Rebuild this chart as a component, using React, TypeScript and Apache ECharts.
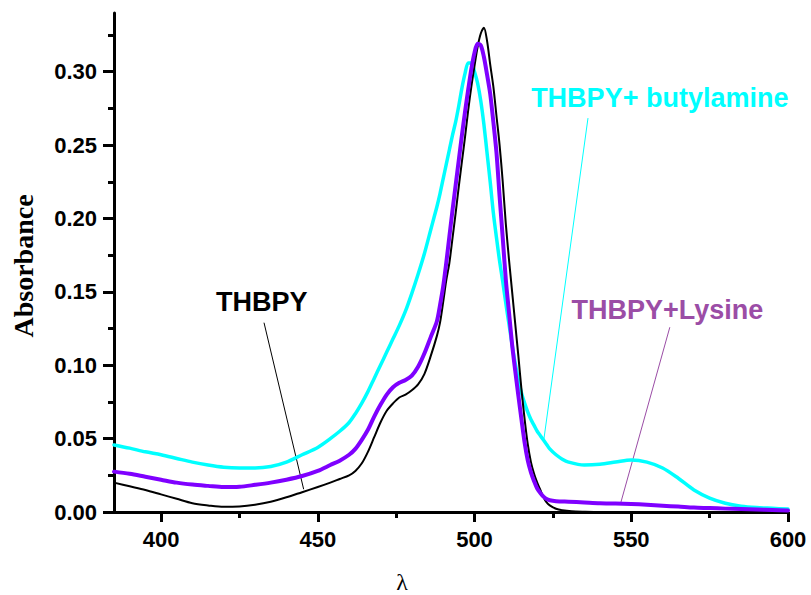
import React, { useEffect, useRef } from 'react';
import * as echarts from 'echarts';

// Absorbance spectra [wavelength (nm), absorbance]
const thbpy: [number, number][] = [
  [385, 0.020], [390, 0.0175], [395, 0.015], [400, 0.012], [405, 0.009], [410, 0.006],
  [415, 0.0045], [420, 0.0035], [425, 0.0038], [430, 0.005], [435, 0.007], [440, 0.010],
  [445, 0.0135], [450, 0.017], [454, 0.020], [457, 0.0225], [460, 0.025], [462, 0.028],
  [464, 0.033], [466, 0.041], [468, 0.051], [470, 0.061], [472, 0.069], [474, 0.074],
  [476, 0.078], [478, 0.080], [480, 0.083], [482, 0.087], [484, 0.094], [486, 0.106],
  [488, 0.120], [489, 0.129], [490, 0.143], [491, 0.158], [492, 0.170], [493, 0.187],
  [494, 0.204], [495, 0.222], [496, 0.239], [497, 0.256], [498, 0.274], [499, 0.290],
  [500, 0.304], [501, 0.317], [502, 0.326], [503, 0.330], [504, 0.321], [505, 0.305],
  [506, 0.290], [507, 0.270], [508, 0.250], [509, 0.225], [510, 0.196], [511, 0.172],
  [512, 0.150], [513, 0.128], [514, 0.106], [515, 0.083], [516, 0.063], [517, 0.046],
  [518, 0.034], [519, 0.026], [520, 0.020], [521, 0.015], [522, 0.010], [523, 0.0065],
  [524, 0.0045], [526, 0.0022], [528, 0.0012], [531, 0.0005], [535, 0.0002], [540, 0],
  [550, 0], [560, 0], [570, 0], [580, 0], [590, 0], [600, 0]
];

const thbpyLysine: [number, number][] = [
  [385, 0.0275], [390, 0.026], [395, 0.024], [400, 0.022], [405, 0.020], [410, 0.0187],
  [415, 0.0178], [420, 0.017], [425, 0.0172], [430, 0.0185], [435, 0.020], [440, 0.022],
  [445, 0.0245], [450, 0.028], [454, 0.032], [457, 0.035], [460, 0.039], [462, 0.043],
  [464, 0.049], [466, 0.056], [468, 0.065], [470, 0.073], [472, 0.080], [474, 0.085],
  [476, 0.088], [478, 0.090], [480, 0.093], [482, 0.099], [484, 0.108], [486, 0.119],
  [488, 0.130], [489, 0.141], [490, 0.1536], [491, 0.170], [492, 0.188], [493, 0.206],
  [494, 0.223], [495, 0.240], [496, 0.257], [497, 0.273], [498, 0.288], [499, 0.302],
  [500, 0.313], [501, 0.319], [502, 0.318], [503, 0.310], [504, 0.298], [505, 0.285],
  [506, 0.266], [507, 0.245], [508, 0.215], [509, 0.187], [510, 0.158], [511, 0.136],
  [512, 0.114], [513, 0.096], [514, 0.079], [515, 0.0627], [516, 0.047], [517, 0.035],
  [518, 0.027], [519, 0.021], [520, 0.016], [521, 0.013], [522, 0.0105], [523, 0.0088],
  [524, 0.0080], [526, 0.0074], [530, 0.007], [535, 0.0065], [540, 0.006], [545, 0.0058],
  [550, 0.0055], [555, 0.005], [560, 0.0043], [565, 0.0037], [570, 0.003], [575, 0.0027],
  [580, 0.0023], [585, 0.002], [590, 0.0017], [595, 0.0014], [600, 0.001]
];

const thbpyButylamine: [number, number][] = [
  [385, 0.0457], [390, 0.0435], [395, 0.041], [400, 0.039], [405, 0.0365], [410, 0.034],
  [415, 0.032], [420, 0.0305], [425, 0.030], [430, 0.030], [435, 0.031], [440, 0.034],
  [445, 0.039], [450, 0.044], [454, 0.050], [457, 0.055], [460, 0.061], [462, 0.067],
  [464, 0.074], [466, 0.082], [468, 0.091], [470, 0.100], [472, 0.109], [474, 0.118],
  [476, 0.127], [478, 0.137], [480, 0.149], [482, 0.162], [484, 0.176], [486, 0.192],
  [487, 0.200], [488, 0.208], [489, 0.217], [490, 0.227], [491, 0.237], [492, 0.247],
  [493, 0.257], [494, 0.266], [495, 0.277], [496, 0.289], [497, 0.299], [498, 0.306],
  [499, 0.306], [500, 0.300], [501, 0.292], [502, 0.280], [503, 0.264], [504, 0.2446],
  [505, 0.225], [506, 0.204], [507, 0.187], [508, 0.171], [509, 0.157], [510, 0.142],
  [511, 0.128], [512, 0.114], [513, 0.101], [514, 0.090], [515, 0.081], [516, 0.074],
  [517, 0.068], [518, 0.063], [519, 0.059], [520, 0.055], [521, 0.052], [522, 0.049],
  [523, 0.046], [524, 0.043], [526, 0.039], [528, 0.036], [530, 0.034], [535, 0.032],
  [540, 0.0325], [545, 0.034], [550, 0.0355], [555, 0.034], [560, 0.030], [565, 0.023],
  [570, 0.015], [575, 0.0095], [580, 0.006], [585, 0.004], [590, 0.003], [595, 0.0025],
  [600, 0.002]
];

const xMajorTicks = [400, 450, 500, 550, 600];
const xMinorTicks = [425, 475, 525, 575];
const yMajorTicks = [0, 0.05, 0.1, 0.15, 0.2, 0.25, 0.3];
const yMinorTicks = [0.025, 0.075, 0.125, 0.175, 0.225, 0.275, 0.325];

// Annotation labels and leader lines (data coordinates)
const annotationTexts = ['THBPY', 'THBPY+ butylamine', 'THBPY+Lysine'];
const annotationColors = ['#000000', '#00FFFF', '#9B4DA6'];
const annotationLabelAt: [number, number][] = [[432.1, 0.1428], [559.1, 0.2823], [561.5, 0.1377]];
const annotationLeaders: [number, number][][] = [
  [[432.85, 0.129], [445.5, 0.0155]],
  [[536.2, 0.2684], [522.1, 0.0491]],
  [[562.3, 0.1259], [546.6, 0.0059]]
];

const SANS = '"Liberation Sans", Arial, Helvetica, sans-serif';
const SERIF = '"Liberation Serif", "Times New Roman", Times, serif';

export default function App() {
  const ref = useRef<HTMLDivElement>(null);
  useEffect(() => {
    if (!ref.current) return;
    const chart = echarts.init(ref.current, undefined, { renderer: 'svg' });
    const X_MIN = 385, X_MAX = 600, Y_MIN = 0, Y_MAX = 0.34;
    const axisLineStyle = { color: '#000', width: 3 };
    const curve = (name: string, data: [number, number][], color: string, width: number, z: number) => ({
      type: 'line', name, data, xAxisIndex: 0, yAxisIndex: 0,
      showSymbol: false, symbol: 'none', smooth: 0.3,
      lineStyle: { color, width, join: 'round', cap: 'round' }, z
    });
    const option: any = {
      animation: false,
      backgroundColor: '#ffffff',
      grid: { left: 114, right: 23, top: 13, bottom: 83, containLabel: false },
      xAxis: [
        {
          type: 'value', min: X_MIN, max: X_MAX, position: 'bottom',
          axisLine: { show: true, lineStyle: axisLineStyle },
          axisTick: { show: true, customValues: xMajorTicks, length: 10, lineStyle: { width: 3, color: '#000' } },
          axisLabel: {
            customValues: xMajorTicks, fontSize: 22, fontWeight: 'bold', fontFamily: SANS,
            color: '#000', margin: 16
          },
          splitLine: { show: false }
        },
        {
          type: 'value', min: X_MIN, max: X_MAX, position: 'bottom',
          axisLine: { show: false },
          axisTick: { show: true, customValues: xMinorTicks, length: 6, lineStyle: { width: 3, color: '#000' } },
          axisLabel: { show: false },
          splitLine: { show: false }
        }
      ],
      yAxis: [
        {
          type: 'value', min: Y_MIN, max: Y_MAX, position: 'left',
          axisLine: { show: true, lineStyle: axisLineStyle },
          axisTick: { show: true, customValues: yMajorTicks, length: 11, lineStyle: { width: 3, color: '#000' } },
          axisLabel: {
            customValues: yMajorTicks, formatter: (v: number) => v.toFixed(2),
            fontSize: 22, fontWeight: 'bold', fontFamily: SANS, color: '#000', margin: 17
          },
          splitLine: { show: false }
        },
        {
          type: 'value', min: Y_MIN, max: Y_MAX, position: 'left',
          axisLine: { show: false },
          axisTick: { show: true, customValues: yMinorTicks, length: 6, lineStyle: { width: 3, color: '#000' } },
          axisLabel: { show: false },
          splitLine: { show: false }
        }
      ],
      series: [
        ...annotationLeaders.map((seg, i) => ({
          type: 'line', name: 'leader' + i, data: seg, xAxisIndex: 0, yAxisIndex: 0,
          showSymbol: false, symbol: 'none', silent: true,
          lineStyle: { color: annotationColors[i], width: 1 }, z: 1
        })),
        curve('THBPY+ butylamine', thbpyButylamine, '#00FFFF', 3.5, 2),
        curve('THBPY', thbpy, '#000000', 2, 3),
        curve('THBPY+Lysine', thbpyLysine, '#7F00FF', 4, 4)
      ]
    };
    chart.setOption(option);

    const labels = annotationTexts.map((t, i) => {
      const p = chart.convertToPixel({ gridIndex: 0 }, annotationLabelAt[i]) as number[];
      return {
        type: 'text', x: p[0], y: p[1], z: 10,
        style: {
          text: t, fill: annotationColors[i], font: `bold 27px ${SANS}`,
          align: 'center', verticalAlign: 'middle'
        }
      };
    });
    chart.setOption({
      graphic: [
        ...labels,
        {
          type: 'text', x: 23, y: 266, rotation: Math.PI / 2, z: 10,
          style: { text: 'Absorbance', fill: '#000', font: `bold 28px ${SERIF}`, align: 'center', verticalAlign: 'middle' }
        },
        {
          type: 'text', x: 402, y: 582, z: 10,
          style: { text: 'λ', fill: '#000', font: `24px ${SERIF}`, align: 'center', verticalAlign: 'middle' }
        }
      ]
    });
    return () => chart.dispose();
  }, []);
  return <div ref={ref} style={{ position: 'fixed', left: 0, top: 0, width: 811, height: 595, background: '#fff' }} />;
}
